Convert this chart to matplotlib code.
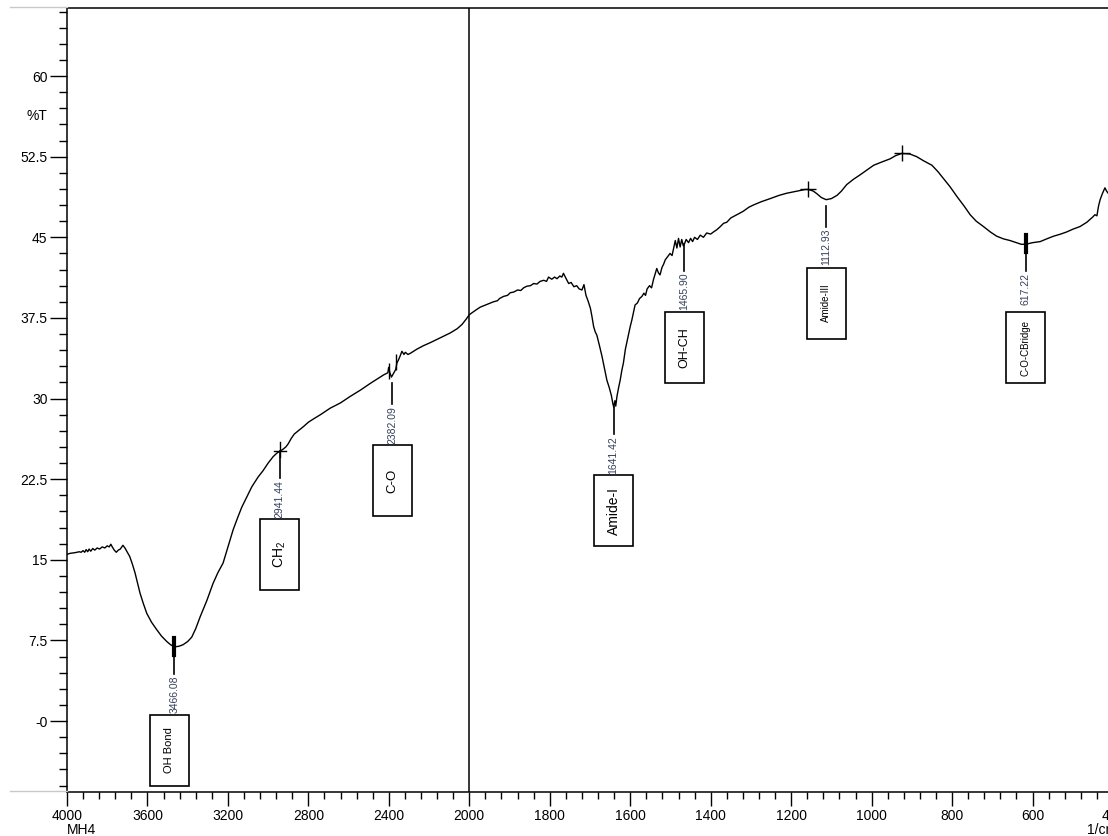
import numpy as np
import matplotlib
matplotlib.use("Agg")
import matplotlib.pyplot as plt
import matplotlib.transforms as mtransforms
from matplotlib.patches import Rectangle
from matplotlib.lines import Line2D

plt.rcParams['font.family'] = ['Liberation Sans', 'DejaVu Sans']

# ---------------- data ----------------
wavenumber = [
    4000, 3985, 3965, 3950, 3940, 3930, 3920, 3912, 3905, 3897, 3890, 3882, 3872, 3862,
    3850, 3838, 3825, 3812, 3800, 3790, 3782, 3775, 3765, 3755, 3745, 3735, 3722, 3712,
    3700, 3688, 3675, 3662, 3650, 3637, 3620, 3603, 3580, 3554, 3530, 3504, 3485, 3466,
    3445, 3423, 3400, 3380, 3360, 3338, 3305, 3274, 3250, 3224, 3200, 3174, 3150, 3131,
    3105, 3081, 3050, 3025, 3000, 2975, 2955, 2941, 2925, 2912, 2900, 2885, 2870, 2850,
    2824, 2800, 2775, 2740, 2692, 2640, 2592, 2540, 2493, 2460, 2426, 2405, 2401, 2395,
    2387, 2378, 2366, 2360, 2352, 2343, 2335, 2325, 2318, 2305, 2294, 2260, 2230, 2194,
    2150, 2095, 2060, 2036, 2015, 2000,
    1985, 1973, 1960, 1950, 1940, 1930, 1925, 1915, 1905, 1898, 1890, 1880, 1872, 1865,
    1857, 1848, 1840, 1832, 1824, 1815, 1808, 1803, 1795, 1788, 1782, 1775, 1770, 1766,
    1760, 1753, 1747, 1740, 1733, 1727, 1720, 1715, 1710, 1705, 1699, 1695, 1691, 1687,
    1683, 1677, 1670, 1664, 1658, 1652, 1647, 1643, 1641, 1638, 1636, 1633, 1629, 1625,
    1621, 1617, 1612, 1608, 1604, 1600, 1596, 1592, 1588, 1582, 1577, 1571, 1566, 1562,
    1558, 1552, 1547, 1542, 1538, 1534, 1530, 1526, 1521, 1517, 1513, 1507, 1501, 1496,
    1492, 1488, 1484, 1480, 1476, 1472, 1468, 1465, 1461, 1455, 1450, 1445, 1440, 1433,
    1426, 1418, 1410, 1400, 1393, 1385, 1376, 1368, 1360, 1350, 1335, 1320, 1305, 1294,
    1275, 1252, 1230, 1211, 1185, 1165, 1157, 1145, 1136, 1125, 1113, 1100, 1086, 1075,
    1062, 1045, 1029, 1010, 995, 975, 954, 940, 925, 905, 888, 870, 850, 835, 822, 805,
    788, 770, 755, 740, 722, 705, 689, 672, 656, 640, 628, 617, 600, 581, 565, 548, 530,
    515, 500, 482, 465, 450, 445, 440, 436, 432, 426, 420, 416, 412,
]
transmittance = [
    15.5, 15.6, 15.65, 15.7, 15.75, 15.7, 15.85, 15.7, 15.95, 15.75, 16.0, 15.8, 16.05, 15.9,
    16.1, 16.0, 16.2, 16.1, 16.3, 16.2, 16.45, 16.2, 15.9, 15.7, 15.9, 16.0, 16.35, 16.1,
    15.7, 15.3, 14.6, 13.8, 12.9, 11.9, 10.9, 10.0, 9.2, 8.5, 7.9, 7.4, 7.1, 6.9,
    6.95, 7.1, 7.4, 7.8, 8.6, 9.7, 11.2, 12.8, 13.8, 14.7, 16.2, 17.8, 19.0, 19.9,
    20.9, 21.8, 22.7, 23.3, 24.0, 24.6, 24.95, 25.1, 25.3, 25.5, 25.8, 26.3, 26.7, 27.0,
    27.4, 27.8, 28.1, 28.5, 29.1, 29.6, 30.2, 30.8, 31.4, 31.8, 32.2, 32.4, 32.9, 32.4,
    32.0, 32.3, 32.7, 33.3, 33.6, 34.0, 34.4, 34.1, 34.3, 34.1, 34.2, 34.6, 34.9, 35.2,
    35.6, 36.1, 36.5, 36.9, 37.4, 37.8,
    38.2, 38.5, 38.7, 38.85, 39.0, 39.1, 39.3, 39.5, 39.6, 39.85, 39.9, 40.1, 40.05, 40.3,
    40.45, 40.5, 40.7, 40.65, 40.9, 41.0, 40.9, 41.3, 41.1, 41.3, 41.15, 41.4, 41.3, 41.65,
    41.2, 40.7, 40.8, 40.4, 40.5, 40.2, 40.1, 40.6, 39.6, 39.1, 38.4, 37.6, 36.7, 36.2,
    35.9, 35.0, 33.9, 32.8, 31.7, 31.0, 30.3, 29.5, 29.2, 29.8, 29.3, 30.2, 31.0, 31.7,
    32.6, 33.3, 34.6, 35.3, 36.0, 36.7, 37.3, 38.0, 38.7, 38.9, 39.3, 39.5, 39.8, 39.6,
    40.2, 40.5, 40.3, 41.1, 41.6, 42.1, 41.7, 41.5, 42.2, 42.5, 42.9, 43.2, 43.5, 43.3,
    44.0, 44.7, 44.0, 44.9, 44.1, 44.8, 44.2, 44.4, 44.8, 44.5, 44.9, 44.6, 45.0, 44.8,
    45.2, 45.0, 45.4, 45.3, 45.5, 45.7, 46.0, 46.3, 46.4, 46.8, 47.1, 47.4, 47.8, 48.0,
    48.3, 48.6, 48.9, 49.1, 49.3, 49.45, 49.45, 49.3, 49.05, 48.7, 48.5, 48.6, 48.9, 49.3,
    49.9, 50.4, 50.8, 51.3, 51.7, 52.0, 52.3, 52.6, 52.8, 52.75, 52.5, 52.1, 51.7, 51.1, 50.5, 49.7,
    48.8, 47.9, 47.1, 46.5, 46.0, 45.5, 45.1, 44.85, 44.7, 44.5, 44.35, 44.35, 44.5, 44.6, 44.85, 45.1, 45.3,
    45.5, 45.75, 46.0, 46.4, 46.9, 47.1, 47.0, 47.9, 48.5, 49.1, 49.6, 49.3, 49.1,
]

# labelled peaks
peak_wn = [3466.08, 2941.44, 2382.09, 1641.42, 1465.90, 1112.93, 617.22]
peak_T = [6.9, 25.1, 32.0, 29.2, 44.4, 48.5, 44.35]
peak_labels = ['3466.08', '2941.44', '2382.09', '1641.42', '1465.90', '1112.93', '617.22']
peak_names = ['OH Bond', r'CH$_\mathregular{2}$', 'C-O', 'Amide-I', 'OH-CH', 'Amide-III', 'C-O-CBridge']
name_sizes = [8, 10, 9.5, 10, 9, 7, 7]

# unlabelled peak-pick marks
mark_wn = [1157, 925]
mark_T = [49.45, 52.8]
tick_mark_wn = [2401, 2363]
tick_mark_T = [32.6, 33.4]

y_major = [0, 7.5, 15, 22.5, 30, 37.5, 45, 52.5, 60]
y_labels = ['-0', '7.5', '15', '22.5', '30', '37.5', '45', '52.5', '60']
x_major = [4000, 3600, 3200, 2800, 2400, 2000, 1800, 1600, 1400, 1200, 1000, 800, 600, 400]

# ---------------- figure ----------------
W, H = 1108, 836
fig = plt.figure(figsize=(W / 100, H / 100), dpi=100)
ax = fig.add_axes([67 / W, 44 / H, 1046 / W, 784 / H])


def fwd(x):
    x = np.asarray(x, dtype=float)
    return np.where(x >= 2000, 1000 + x / 2.0, x)


def inv(u):
    u = np.asarray(u, dtype=float)
    return np.where(u >= 2000, (u - 1000) * 2.0, u)


ax.set_xscale('function', functions=(fwd, inv))
ax.set_xlim(4000, 400)
ax.set_ylim(-6.6, 66.33)

ax.plot(wavenumber, transmittance, color='black', lw=1.0)
ax.axvline(2000, color='black', lw=1.1)

# ticks
ax.set_yticks(y_major)
ax.set_yticklabels(y_labels)
ax.set_yticks(np.arange(-6, 66.1, 1.5), minor=True)
ax.set_xticks(x_major)
ax.set_xticklabels([str(v) for v in x_major])
minor_x = [v for v in range(4000, 2000, -80) if v % 400] + [v for v in range(2000, 399, -40) if v % 200]
ax.set_xticks(minor_x, minor=True)
ax.tick_params(axis='y', which='major', length=12, width=1.0, pad=2, labelsize=10)
ax.tick_params(axis='y', which='minor', length=6, width=1.0)
ax.tick_params(axis='x', which='major', length=10, width=1.0, pad=2, labelsize=10)
ax.tick_params(axis='x', which='minor', length=5, width=1.0)
for s in ax.spines.values():
    s.set_linewidth(1.1)
    s.set_color('black')

# peak marks
ax.plot(mark_wn, mark_T, linestyle='none', marker='+', ms=11, mew=1.0, color='black')
ax.plot(tick_mark_wn, tick_mark_T, linestyle='none', marker='|', ms=11, mew=1.0, color='black')

val_color = '#34405a'
for i, (wn, T) in enumerate(zip(peak_wn, peak_T)):
    tr = mtransforms.ScaledTranslation(wn, T, ax.transData)
    if i in (0, 6):
        ax.add_line(Line2D([0, 0], [9, -8], lw=3, color='black', transform=tr, clip_on=False))
    elif i == 1:
        ax.add_line(Line2D([0, 0], [9, -6], lw=1.0, color='black', transform=tr, clip_on=False))
        ax.add_line(Line2D([-6, 6], [0, 0], lw=1.0, color='black', transform=tr, clip_on=False))
    start = -6 if i in (2, 5) else 0
    ax.add_line(Line2D([0, 0], [start, -27], lw=1.2, color='black', transform=tr, clip_on=False))
    ax.text(0, -29, peak_labels[i], transform=tr, rotation=90, ha='center', va='top',
            fontsize=7.5, color=val_color, clip_on=False)
    dx = -5 if i == 0 else 0
    bw, bh = 39, 71
    ax.add_patch(Rectangle((dx - bw / 2, -68 - bh), bw, bh, transform=tr, fill=False,
                           lw=1.2, edgecolor='black', clip_on=False))
    ax.text(dx, -68 - bh / 2, peak_names[i], transform=tr, rotation=90, ha='center',
            va='center', fontsize=name_sizes[i], color='black', clip_on=False)

# surrounding texts
fig.text(47 / W, 1 - 116 / H, '%T', ha='right', va='center', fontsize=10)
fig.text(67 / W, 1.5 / H, 'MH4', ha='left', va='baseline', fontsize=10)
fig.text(1087 / W, 1.5 / H, '1/cm', ha='left', va='baseline', fontsize=10)
fig.add_artist(Line2D([10 / W, 67 / W], [1 - 7 / H] * 2, color='#c8c8c8', lw=1,
                      transform=fig.transFigure))
fig.add_artist(Line2D([10 / W, 67 / W], [1 - 791 / H] * 2, color='#c8c8c8', lw=1,
                      transform=fig.transFigure))

fig.savefig('out.png', dpi=100)
